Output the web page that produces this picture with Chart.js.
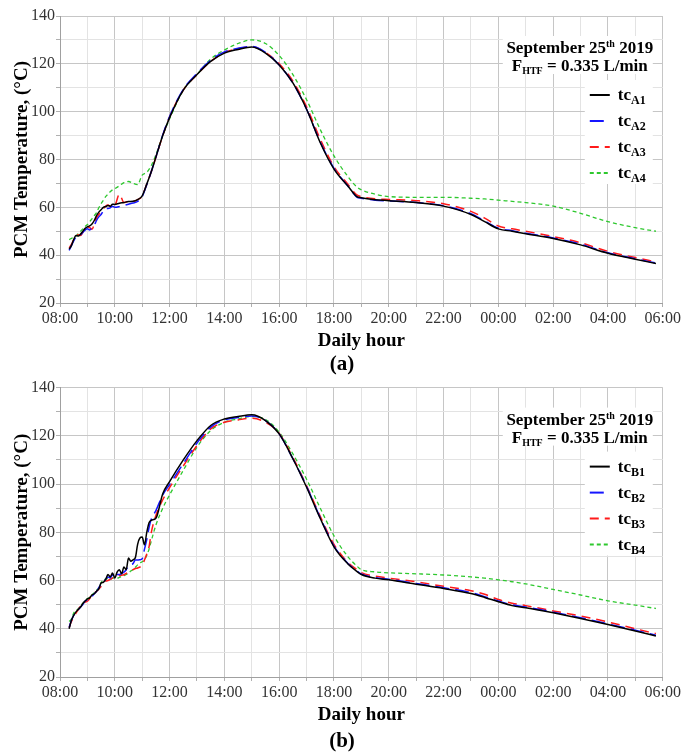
<!DOCTYPE html>
<html>
<head>
<meta charset="utf-8">
<script src="https://cdn.jsdelivr.net/npm/chart.js@4"></script>
<style>
  body { margin: 0; background: #fff; }
  canvas { display: block; }
</style>
</head>
<body>
<canvas id="chartA" width="683" height="377"></canvas>
<canvas id="chartB" width="683" height="377"></canvas>
<script>
// sample times, panel (a)
const timesA = ['08:20','08:25','08:30','08:35','08:40','08:45','08:50','08:55',
  '09:00','09:05','09:10','09:15','09:20','09:25','09:30','09:35','09:40','09:45','09:50','09:55',
  '10:00','10:10','10:20','10:30','10:40','10:50',
  '11:00','11:10','11:20','11:30','11:45',
  '12:00','12:30','13:00','13:30','14:00','14:30','15:00','15:30','16:00','16:30','17:00','17:30','18:00','18:30',
  '18:50','19:00','19:30','20:00','21:00','22:00','23:00','23:30','00:00','00:30','01:00','02:00','03:00','04:00','05:00','05:45']

const tcA1 = [42.5,44,46.5,48.2,48,48.8,50,51.2,
  51.8,52.2,53,54.5,56.5,58,59,60,60.3,60.8,60.5,61.3,
  61.2,61.7,62,62.4,62.5,63.2,
  64.8,69.7,75,81,90,
  97.5,109,115.5,121,124.5,126,127,124.5,119.5,112,101,87,76,69,
  64.5,64,63.2,62.8,62,60.5,57,54,51,50,49,47,44.3,40.8,38.3,36.5]
const tcA2 = [42,44,46,47.5,48,48.5,49.5,50.5,
  51,50.5,51.5,52.5,54.5,56,57,58.5,59.5,59.5,59.8,60.5,
  60,60.3,60.8,61.3,61.8,62.5,
  64.5,69.5,75,81,90.3,
  98,109.3,116,121.5,125,126.5,127.3,124.8,119.5,112,101,87.3,76.3,69,
  64.3,63.8,63,62.7,62,60.7,57.3,54.3,51.3,50.2,49.2,47.2,44.6,41,38.5,36.7]
const tcA3 = [43,44.5,46.5,48,48.5,48.2,49.5,51,
  52,51.5,50.8,53,55.5,57,58.5,59.5,60.5,61,60.3,61.2,
  61,65.5,62,62.5,62.5,63.2,
  64.8,69.7,75,81,90,
  97.8,109,115.5,121,124.8,126.3,127.2,124.8,120,112.8,102,88.5,77,69.8,
  65.2,64.5,63.6,63.3,62.8,61.5,58.3,55.5,52.2,51,50,47.8,45.2,41.6,39,37.2]
const tcA4 = [46.5,47,47.5,48,49,50,51,52,
  52.8,54,55.2,56.5,57.8,59.8,61.5,63,64.5,65.5,66.5,67.3,
  67.8,69,70.3,70.8,70,69.5,
  73.5,74.6,77.5,82,90,
  97,109,115.5,122,125.8,128.5,130,128.5,123.5,115.5,105,92.5,81.5,73,
  68.5,67.3,65.5,64.5,64.2,64.2,63.8,63.5,63,62.5,62,60.5,57.5,54,51.5,50]

// sample times, panel (b)
const timesB = ['08:20','08:25','08:30','08:35','08:40','08:45','08:50','08:55',
  '09:00','09:05','09:10','09:15','09:20','09:25','09:30','09:35','09:40','09:45','09:50','09:55',
  '10:00','10:05','10:10','10:15','10:20','10:25','10:30','10:35','10:40','10:45','10:50','10:55',
  '11:00','11:05','11:10','11:15','11:20',
  '11:30','11:45','12:00','12:30','13:00','13:30','14:00','14:30','15:00','15:30','16:00','16:30','17:00','17:30','18:00','18:30',
  '18:50','19:00','19:30','20:00','21:00','22:00','23:00','23:30','00:00','00:30','01:00','02:00','03:00','04:00','05:00','05:45']

const tcB1 = [40,43.5,45.5,47,48,49,50.5,51.5,
  52.4,52.8,54,54.5,55.6,56.5,59,59.3,60.5,62.5,61.5,63.1,
  61,63.5,64.5,62.8,65.6,64.5,69.3,68,68.6,69.5,75,77.6,
  78,74.8,80,84,85,
  85.8,96,101,110,118,124.3,127,128,128.7,126.3,120.8,110.5,98.7,85.7,74,67,
  63.8,62.5,61,60.3,58.5,56.7,54.6,53,51.2,49.6,48.7,46.6,44.3,41.8,39.1,37]
const tcB2 = [40.5,43.5,45.5,47,48,49,50,51.5,
  52,53,53.5,54.5,55.5,57,58.5,59,60.5,61.5,61,62.5,
  61,62.5,62.5,63,63.5,64.5,66,66.6,67,68.5,68.5,68.6,
  69,73,77,82,85.5,
  89,95.5,99.8,108.5,117,123.6,126.6,127.6,128.2,126.3,120.8,110.5,99,86,74.3,67.2,
  64,62.7,61.2,60.5,58.8,57,55,53.3,51.5,49.9,49,46.9,44.6,42,39.4,37.3]
const tcB3 = [40.5,43,45,46.5,48,49.4,50,51,
  51.4,52.5,54.5,54.9,55.5,56.5,57.5,58.5,59.7,60,60.5,61,
  61,61.5,62,62.2,62.4,63,63.5,63.8,64.5,65,65.2,65.6,
  66,68.5,71,74,80,
  87,93.5,98.5,107.5,116,122.9,125.6,126.6,127.3,125.6,121,111,99.3,86.6,75,67.6,
  64.6,63.3,61.8,61,59.5,57.6,55.8,54.3,52.1,50.6,49.6,47.4,45.3,42.8,40,38]
const tcB4 = [43,44,46.5,47.5,48.3,49.5,50.5,51.5,
  52.5,53,54,55,56,57,59,60.4,60.5,61,60.5,61,
  61.1,61,61.3,61.8,62,62.5,63,64,64.5,65.5,66.5,67.3,
  67.8,68.6,70.5,73,76.5,
  83,90,95.5,105.7,115.3,122.2,125.6,127,128,126.8,121.5,112.5,102,90,78.5,70,
  66,64.5,63.6,63.2,62.8,62.3,61.5,61,60.3,59.5,58.6,56.3,54,51.6,49.8,48.4]

const subsA = ['A1','A2','A3','A4']
const subsB = ['B1','B2','B3','B4']

const FONT = '"Liberation Serif", "Times New Roman", serif'
const colors = ['#000000', '#1515ff', '#ff1a1a', '#2ec82e']
const dashes = [[], [14, 6], [9, 6], [4, 3]]
const widths = [1.5, 1.5, 1.5, 1.3]

function toHour(s){
    let [h, m] = s.split(':').map(Number)
    if (h < 8) h += 24
    return h + m / 60
}

function hourLabel(v){
    let h = v % 24
    return (h < 10 ? '0' : '') + h + ':00'
}

// draws text made of pieces (normal, sub, sup) in bold serif
function drawRich(ctx, parts, x, y, align){
    let w = 0
    parts.forEach(p => { ctx.font = 'bold ' + p.s + 'px ' + FONT; w += ctx.measureText(p.t).width })
    let cx = align === 'center' ? x - w / 2 : x
    ctx.textAlign = 'left'
    ctx.textBaseline = 'alphabetic'
    parts.forEach(p => {
        ctx.font = 'bold ' + p.s + 'px ' + FONT
        ctx.fillText(p.t, cx, y + (p.dy || 0))
        cx += ctx.measureText(p.t).width
    })
}

const textPlugin = {
    id: 'texts',
    beforeDatasetsDraw(chart){
        const ctx = chart.ctx, ca = chart.chartArea
        ctx.save()
        ctx.fillStyle = '#fff'
        ctx.fillRect(ca.right - 160, ca.top + 20, 150, 38)
        ctx.fillRect(ca.right - 78, ca.top + 64, 68, 104)
        ctx.restore()
    },
    afterDraw(chart){
        const ctx = chart.ctx, ca = chart.chartArea
        const o = chart.options.plugins.texts
        ctx.save()
        ctx.fillStyle = '#000'
        // y title
        ctx.save()
        ctx.translate(20, (ca.top + ca.bottom) / 2)
        ctx.rotate(-Math.PI / 2)
        drawRich(ctx, [{t: 'PCM Temperature, (°C)', s: 19}], 0, 7, 'center')
        ctx.restore()
        // x title + caption
        drawRich(ctx, [{t: 'Daily hour', s: 19}], (ca.left + ca.right) / 2, ca.bottom + 43, 'center')
        drawRich(ctx, [{t: o.caption, s: 21}], 342, ca.bottom + o.capOffset, 'center')
        // annotation
        const cx = ca.right - 83
        drawRich(ctx, [{t: 'September 25', s: 17}, {t: 'th', s: 10, dy: -6}, {t: ' 2019', s: 17}], cx, ca.top + 37, 'center')
        drawRich(ctx, [{t: 'F', s: 17}, {t: 'HTF', s: 10, dy: 3}, {t: ' = 0.335 L/min', s: 17}], cx, ca.top + 55, 'center')
        // legend
        chart.data.datasets.forEach((ds, i) => {
            const y = ca.top + 79 + i * 26
            ctx.save()
            ctx.strokeStyle = ds.borderColor
            ctx.lineWidth = 2
            ctx.setLineDash(ds.borderDash)
            ctx.beginPath()
            ctx.moveTo(ca.right - 73, y)
            ctx.lineTo(ca.right - 53, y)
            ctx.stroke()
            ctx.restore()
            drawRich(ctx, [{t: 'tc', s: 17}, {t: o.subs[i], s: 12, dy: 4}], ca.right - 45, y + 5, 'left')
        })
        ctx.restore()
    }
}

function makePanel(id, times, series, subs, caption, padTop, xHeight, capOffset){
    const datasets = series.map((vals, i) => ({
        label: 'tc' + subs[i],
        data: vals.map((v, j) => ({x: toHour(times[j]), y: v})),
        borderColor: colors[i],
        borderDash: dashes[i],
        borderWidth: widths[i],
        pointRadius: 0,
        fill: false,
        cubicInterpolationMode: 'monotone'
    }))
    return new Chart(document.getElementById(id), {
        type: 'line',
        data: {datasets: datasets},
        plugins: [textPlugin],
        options: {
            responsive: false,
            animation: false,
            layout: {padding: {top: padTop, right: 20, left: 0, bottom: 0}},
            plugins: {
                legend: {display: false},
                tooltip: {enabled: false},
                texts: {caption: caption, subs: subs, capOffset: capOffset}
            },
            scales: {
                x: {
                    type: 'linear', min: 8, max: 30,
                    afterFit: s => { s.height = xHeight },
                    ticks: {
                        stepSize: 1, autoSkip: false, maxRotation: 0, padding: 2,
                        color: '#333', font: {family: FONT, size: 16},
                        callback: v => v % 2 === 0 ? hourLabel(v) : ''
                    },
                    grid: {
                        color: c => (c.tick && c.tick.value % 2 === 0) ? '#c6c6c6' : '#e3e3e3',
                        tickColor: '#b0b0b0', tickLength: 4
                    },
                    border: {color: '#a0a0a0'}
                },
                y: {
                    min: 20, max: 140,
                    afterFit: s => { s.width = 60 },
                    ticks: {
                        stepSize: 10, autoSkip: false, padding: 1,
                        color: '#333', font: {family: FONT, size: 16},
                        callback: v => v % 20 === 0 ? v : ''
                    },
                    grid: {
                        color: c => (c.tick && c.tick.value % 20 === 0) ? '#c6c6c6' : '#e3e3e3',
                        tickColor: '#b0b0b0', tickLength: 4
                    },
                    border: {color: '#a0a0a0'}
                }
            }
        }
    })
}

makePanel('chartA', timesA, [tcA1, tcA2, tcA3, tcA4], subsA, '(a)', 16, 74, 67)
makePanel('chartB', timesB, [tcB1, tcB2, tcB3, tcB4], subsB, '(b)', 10, 77, 70)
</script>
</body>
</html>
